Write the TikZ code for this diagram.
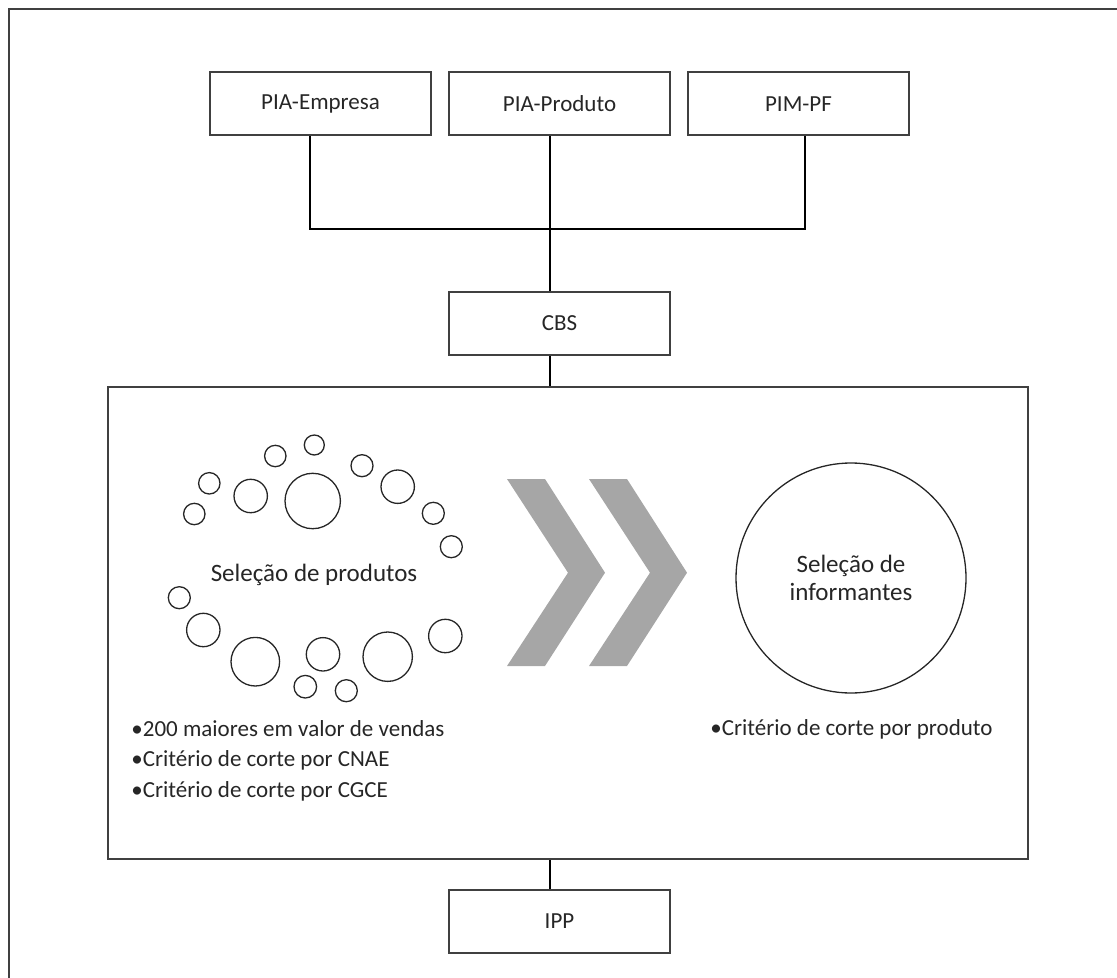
\documentclass[tikz,border=0pt]{standalone}
\usepackage{fontspec}
\setmainfont{Carlito}
\definecolor{frame}{HTML}{404040}
\definecolor{chev}{HTML}{A6A6A6}
\definecolor{ink}{HTML}{262626}

\begin{document}
\begin{tikzpicture}[x=0.5pt, y=-0.5pt,
  srcbox/.style={draw=frame, line width=1pt, minimum width=110.5pt, minimum height=31.5pt, inner sep=0pt, text=ink, font=\fontsize{11.5}{14}\selectfont},
  link/.style={black, line width=0.8pt},
  bubble/.style={draw=black!85, line width=0.65pt},
  note/.style={anchor=base west, inner sep=0pt, text=ink, font=\fontsize{11.5}{14}\selectfont}]

\clip (0,0) rectangle (1117,978);

% Outer frame
\draw[frame, line width=1.2pt] (9,9) rectangle (1140,1000);

% Sources
\node[srcbox] (emp) at (320.5,104) {PIA-Empresa};
\node[srcbox] (prd) at (559.5,104) {PIA-Produto};
\node[srcbox] (pim) at (798.5,104) {PIM-PF};

% CBS
\node[srcbox] (cbs) at (559.5,323.5) {CBS};

\coordinate (jn) at (550,229);
\draw[link] ([xshift=-5.25pt]emp.south) |- (jn) -| ([xshift=3.25pt]pim.south);
\draw[link] ([xshift=-4.75pt]prd.south) -- ([xshift=-4.75pt]cbs.north);

% Selection block
\node[draw=frame, line width=1pt, minimum width=460pt, minimum height=236pt, inner sep=0pt] (sel) at (568,623) {};
\coordinate (c1) at ([xshift=-4.75pt]cbs.south);
\draw[link] (c1) -- (c1 |- sel.north);

% IPP
\node[srcbox] (ipp) at (559.5,921.5) {IPP};
\coordinate (c2) at ([xshift=-4.75pt]ipp.north);
\draw[link] (c2) -- (c2 |- sel.south);

% Product bubbles
\foreach \cx/\cy/\r in {314.3/445/10, 275.3/456/10.7, 209.3/483.3/10.7, 194.3/514/10.7,
    250.7/496/16.7, 312.7/501/27.7, 362/465.7/11, 397.7/486.7/16.7, 433.3/513.3/11,
    451.3/546.7/11, 179.3/597.7/11, 203.3/630/16.7, 255.3/661.7/24.3, 323/654.3/16.7,
    387.7/656.7/24.7, 445.3/636/16.7, 305.3/686.7/11.3, 346.3/690.7/11}
  \draw[bubble] (\cx,\cy) circle[radius=\r];
\node[anchor=base, inner sep=0pt, text=ink, font=\fontsize{12.5}{14}\selectfont] (prod) at (314,581) {Seleção de produtos};

% Chevrons
\foreach \sx in {507,589}
  \fill[chev] (\sx,479) -- ++(38,0) -- ++(60,93.7) -- ++(-60,93.3) -- ++(-38,0) -- ++(61,-93.3) -- cycle;

% Informants
\node[circle, bubble, minimum size=115pt, inner sep=0pt, align=center, text=ink, font=\fontsize{12.5}{14}\selectfont] (inf) at (851,578) {Seleção de\\informantes};

% Criteria
\node[note] (b1) at (131,736) {•200 maiores em valor de vendas};
\node[note] (b2) at (131,766.5) {•Critério de corte por CNAE};
\node[note] (b3) at (131,797) {•Critério de corte por CGCE};
\node[note] (b4) at (710,735) {•Critério de corte por produto};

\end{tikzpicture}
\end{document}
